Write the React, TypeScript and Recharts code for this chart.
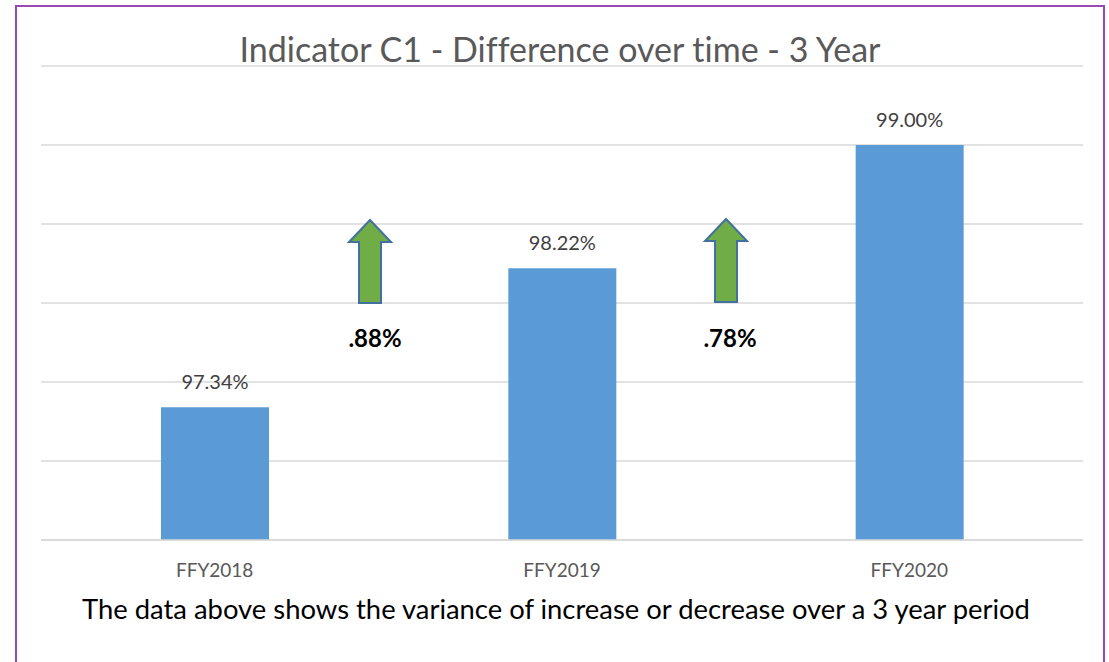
import React from "react";
import { BarChart, Bar, XAxis, YAxis, CartesianGrid, LabelList } from "recharts";

const categories = ["FFY2018", "FFY2019", "FFY2020"];
const values = [97.34, 98.22, 99.0];
const yTicks = [96.5, 97, 97.5, 98, 98.5, 99, 99.5];
const changeLabels = [".88%", ".78%"];
const titleText = "Indicator C1 - Difference over time - 3 Year";
const captionText = "The data above shows the variance of increase or decrease over a 3 year period";

const data = categories.map((c, i) => ({ name: c, value: values[i] }));

const FONT = "Lato, 'Open Sans', sans-serif";
const noLig: React.CSSProperties = { fontVariantLigatures: "none", fontFeatureSettings: '"liga" 0' };

function UpArrow({ cx, tipY, baseY }: { cx: number; tipY: number; baseY: number }) {
  const headHalf = 21;
  const shaftHalf = 11;
  const headBase = tipY + 22;
  const d = `M ${cx} ${tipY} L ${cx + headHalf} ${headBase} L ${cx + shaftHalf} ${headBase} L ${cx + shaftHalf} ${baseY} L ${cx - shaftHalf} ${baseY} L ${cx - shaftHalf} ${headBase} L ${cx - headHalf} ${headBase} Z`;
  return <path d={d} fill="#70ad47" stroke="#41719c" strokeWidth={2} strokeLinejoin="miter" />;
}

export default function App() {
  return (
    <div style={{ position: "fixed", left: 0, top: 0, width: 1109, height: 662, background: "#fff", overflow: "hidden", ...noLig }}>
      <div style={{ position: "absolute", left: 15, top: 5, width: 1086, height: 700, border: "2px solid #9a48b6" }} />
      <div style={{ position: "absolute", left: 0, top: 0 }}>
        <BarChart width={1109} height={662} data={data} margin={{ top: 66, left: 41, right: 26, bottom: 92 }}>
          <CartesianGrid vertical={false} stroke="#d9d9d9" strokeWidth={1.3} />
          <YAxis hide domain={[96.5, 99.5]} ticks={yTicks} type="number" allowDataOverflow />
          <XAxis
            dataKey="name"
            height={30}
            axisLine={{ stroke: "#d9d9d9", strokeWidth: 1.3 }}
            tickLine={false}
            tick={{ fill: "#595959", fontSize: 19, fontFamily: FONT }}
            tickMargin={18}
          />
          <Bar dataKey="value" fill="#5b9bd5" barSize={108} isAnimationActive={false}>
            <LabelList
              dataKey="value"
              position="top"
              offset={18}
              formatter={(v: number) => `${v.toFixed(2)}%`}
              style={{ fill: "#404040", fontSize: 20, fontFamily: FONT }}
            />
          </Bar>
        </BarChart>
      </div>
      <svg width={1109} height={662} style={{ position: "absolute", left: 0, top: 0, ...noLig }}>
        <UpArrow cx={370} tipY={220} baseY={303} />
        <UpArrow cx={726} tipY={219} baseY={302} />
        <text x={375} y={347} textAnchor="middle" fontFamily={FONT} fontWeight="bold" fontSize={24} fill="#000">{changeLabels[0]}</text>
        <text x={730} y={347} textAnchor="middle" fontFamily={FONT} fontWeight="bold" fontSize={24} fill="#000">{changeLabels[1]}</text>
        <text x={560} y={62} textAnchor="middle" fontFamily={FONT} fontSize={34} fill="#595959">{titleText}</text>
        <text x={556} y={619} textAnchor="middle" fontFamily={FONT} fontSize={27.4} fill="#000">{captionText}</text>
      </svg>
    </div>
  );
}
